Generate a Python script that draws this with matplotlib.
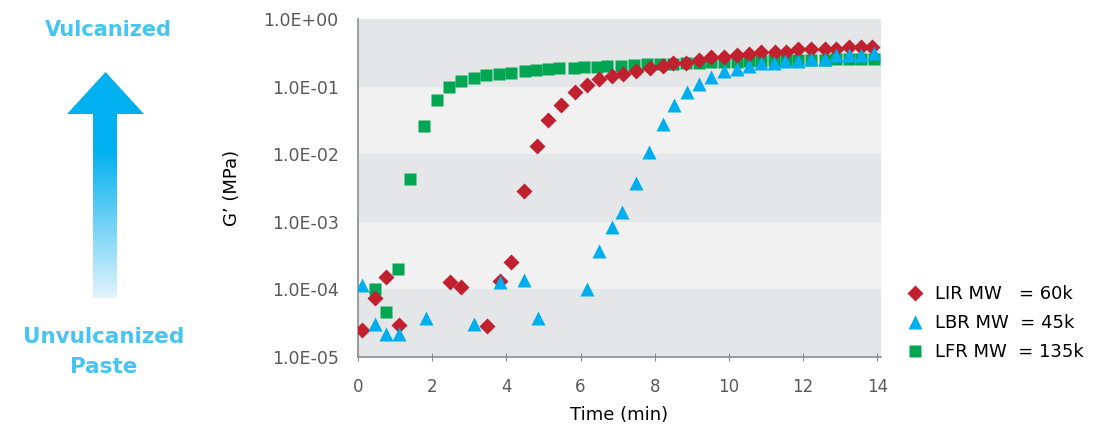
import numpy as np
import matplotlib.pyplot as plt
from matplotlib.patches import Polygon
from matplotlib.lines import Line2D
from matplotlib.ticker import FuncFormatter, FixedLocator

# ===== data =====
# LIR MW = 60k
lir_t = [0.10, 0.46, 0.75, 1.11, 2.48, 2.77, 3.48, 3.84, 4.13, 4.48, 4.83, 5.13, 5.48,
         5.86, 6.18, 6.50, 6.86, 7.14, 7.50, 7.86, 8.22, 8.49, 8.85, 9.19, 9.52, 9.86,
         10.23, 10.54, 10.87, 11.23, 11.54, 11.86, 12.22, 12.58, 12.89, 13.23, 13.56, 13.87]
lir_g = [2.5e-5, 7.5e-5, 1.5e-4, 3.0e-5, 1.3e-4, 1.1e-4, 2.9e-5, 1.35e-4, 2.5e-4, 2.9e-3,
         1.3e-2, 3.2e-2, 5.4e-2, 8.4e-2, 1.04e-1, 1.3e-1, 1.43e-1, 1.55e-1, 1.7e-1, 1.86e-1,
         2.0e-1, 2.2e-1, 2.2e-1, 2.45e-1, 2.7e-1, 2.7e-1, 2.9e-1, 3.0e-1, 3.3e-1, 3.3e-1,
         3.3e-1, 3.55e-1, 3.55e-1, 3.55e-1, 3.55e-1, 3.9e-1, 3.9e-1, 3.9e-1]

# LBR MW = 45k
lbr_t = [0.10, 0.46, 0.75, 1.11, 1.83, 3.12, 3.83, 4.48, 4.85, 6.17, 6.50, 6.84, 7.13,
         7.49, 7.85, 8.22, 8.51, 8.86, 9.18, 9.52, 9.86, 10.21, 10.54, 10.86, 11.22,
         11.52, 11.86, 12.22, 12.58, 12.88, 13.23, 13.56, 13.92]
lbr_g = [1.15e-4, 3.1e-5, 2.2e-5, 2.2e-5, 3.8e-5, 3.1e-5, 1.3e-4, 1.4e-4, 3.8e-5, 1.0e-4,
         3.7e-4, 8.3e-4, 1.4e-3, 3.7e-3, 1.07e-2, 2.8e-2, 5.3e-2, 8.3e-2, 1.08e-1, 1.4e-1,
         1.68e-1, 1.83e-1, 2.0e-1, 2.2e-1, 2.2e-1, 2.4e-1, 2.4e-1, 2.6e-1, 2.6e-1, 2.9e-1,
         2.9e-1, 2.9e-1, 3.1e-1]

# LFR MW = 135k
lfr_t = [0.46, 0.75, 1.07, 1.40, 1.78, 2.12, 2.45, 2.77, 3.12, 3.45, 3.79, 4.13, 4.49,
         4.80, 5.12, 5.43, 5.82, 6.10, 6.44, 6.72, 7.10, 7.45, 7.80, 8.15, 8.50, 8.85,
         9.19, 9.52, 9.86, 10.21, 10.54, 10.87, 11.22, 11.54, 11.86, 12.22, 12.58, 12.89,
         13.23, 13.56, 13.90]
lfr_g = [1.0e-4, 4.7e-5, 2.0e-4, 4.3e-3, 2.6e-2, 6.3e-2, 1.0e-1, 1.2e-1, 1.35e-1, 1.48e-1,
         1.55e-1, 1.6e-1, 1.68e-1, 1.75e-1, 1.85e-1, 1.9e-1, 1.9e-1, 1.97e-1, 1.97e-1, 2.0e-1,
         2.05e-1, 2.12e-1, 2.15e-1, 2.15e-1, 2.15e-1, 2.2e-1, 2.25e-1, 2.3e-1, 2.3e-1, 2.35e-1,
         2.4e-1, 2.4e-1, 2.45e-1, 2.45e-1, 2.5e-1, 2.5e-1, 2.5e-1, 2.55e-1, 2.55e-1, 2.6e-1,
         2.6e-1]

labels = ["LIR MW   = 60k", "LBR MW  = 45k", "LFR MW  = 135k"]

RED = "#C1202F"
BLUE = "#00AEEF"
GREEN = "#00A651"
TXT_BLUE = "#45C6F2"

W, H = 1109, 432
fig = plt.figure(figsize=(W / 100, H / 100), dpi=100)

# ===== main axes =====
ax = fig.add_axes([358 / W, 1 - 357 / H, (881 - 358) / W, (357 - 19) / H])
ax.set_yscale("log")
ax.set_xlim(0, 14.1)
ax.set_ylim(1e-5, 1)

# alternating bands per decade
for k in range(5):
    ax.axhspan(10.0 ** (-k - 1), 10.0 ** (-k),
               color="#E5E6E8" if k % 2 == 0 else "#F1F1F1", lw=0, zorder=0)

ax.plot(lfr_t, lfr_g, "s", color=GREEN, ms=9, mec="none", zorder=3)
ax.plot(lir_t, lir_g, "D", color=RED, ms=8.5, mec="none", zorder=4)
ax.plot(lbr_t, lbr_g, "^", color=BLUE, ms=10.5, mec="none", zorder=5)

ax.yaxis.set_major_locator(FixedLocator([1e-5, 1e-4, 1e-3, 1e-2, 1e-1, 1]))
ax.yaxis.set_minor_locator(FixedLocator([]))
ax.yaxis.set_major_formatter(FuncFormatter(
    lambda v, p: "1.0E%+03d" % int(round(np.log10(v)))))
ax.set_xticks(range(0, 15, 2))

for s in ["top", "right"]:
    ax.spines[s].set_visible(False)
for s in ["left", "bottom"]:
    ax.spines[s].set_color("#8C8C8C")
    ax.spines[s].set_linewidth(1.2)

ax.tick_params(axis="y", length=0, pad=14, labelsize=12.5, labelcolor="#595959")
ax.tick_params(axis="x", direction="inout", length=6, color="#8C8C8C",
               labelsize=12, labelcolor="#595959", pad=12)

ax.set_xlabel("Time (min)", fontsize=13, labelpad=7)
ax.set_ylabel("G\u2019 (MPa)", fontsize=13, labelpad=16)

handles = [Line2D([], [], ls="none", marker="D", color=RED, ms=8.5, mec="none"),
           Line2D([], [], ls="none", marker="^", color=BLUE, ms=10.5, mec="none"),
           Line2D([], [], ls="none", marker="s", color=GREEN, ms=9, mec="none")]
fig.legend(handles, labels, loc="center left", bbox_to_anchor=(888 / W, 1 - 323 / H),
           frameon=False, fontsize=13, handletextpad=0.5, labelspacing=0.6,
           handlelength=1.2)

# ===== left annotation: gradient arrow =====
ov = fig.add_axes([0, 0, 1, 1], zorder=-1)
ov.set_xlim(0, W)
ov.set_ylim(H, 0)
ov.axis("off")

arrow = Polygon([(93, 298), (93, 114), (67, 114), (105.5, 72), (144, 114),
                 (117, 114), (117, 298)], closed=True, fc="none", ec="none")
ov.add_patch(arrow)
top = np.array([0, 176, 239]) / 255
pale = np.array([226, 244, 252]) / 255
rows = np.linspace(72, 298, 200)
frac = np.clip((rows - 150) / (298 - 150), 0, 1)[:, None]
grad = (1 - frac) * top + frac * pale
img = ov.imshow(grad[:, None, :], extent=(67, 144, 298, 72), aspect="auto",
                interpolation="bilinear", zorder=1)
img.set_clip_path(arrow)

ov.text(108, 30, "Vulcanized", color=TXT_BLUE, fontsize=15, fontweight="bold",
        ha="center", va="center")
ov.text(104, 352, "Unvulcanized\nPaste", color=TXT_BLUE, fontsize=15.5,
        fontweight="bold", ha="center", va="center", linespacing=1.6)

fig.savefig("out.png", dpi=100)
